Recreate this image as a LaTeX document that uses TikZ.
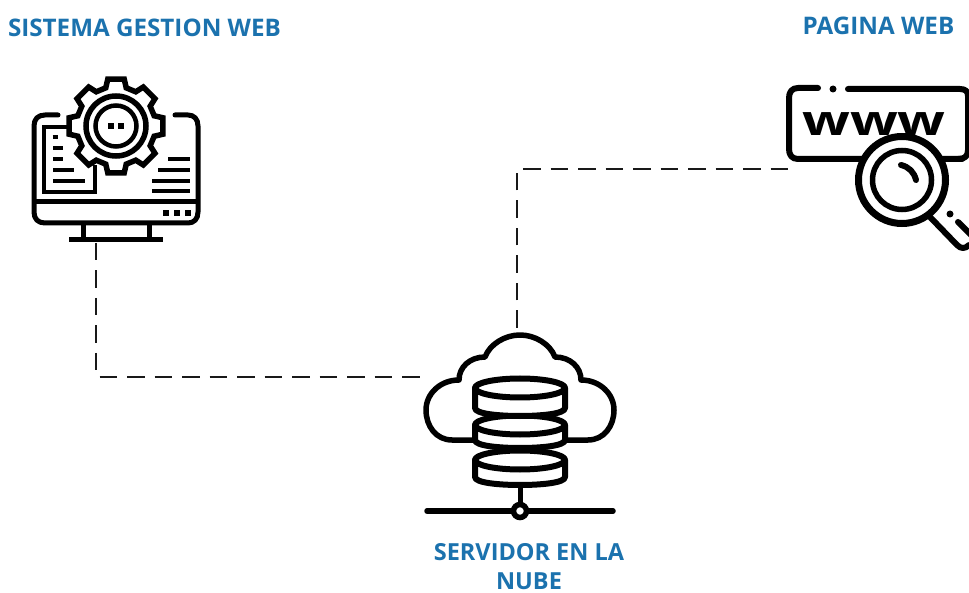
\documentclass[tikz,border=0pt]{standalone}
\usepackage{fontspec}
\setmainfont{Open Sans}
\definecolor{labelblue}{HTML}{1B72AE}
\tikzset{
  icon/.style={draw=black,line width=5pt,line cap=round,line join=round},
  iconbutt/.style={draw=black,line width=5pt,line cap=butt,line join=miter},
  link/.style={draw=black!90,line width=2.2pt,dash pattern=on 17.5pt off 10pt},
  lab/.style={text=labelblue,font=\fontsize{24.2}{28}\selectfont\bfseries,align=center,inner sep=0pt},
  anchorpt/.style={inner sep=0pt,minimum size=0pt,outer sep=0pt}
}
\begin{document}
\begin{tikzpicture}[x=1pt,y=-1pt]
\useasboundingbox (0,0) rectangle (969,593);
\fill[white] (0,0) rectangle (969,593);
% labels
\node[lab] (l1) at (144.5,28) {SISTEMA GESTION WEB};
\node[lab] (l2) at (878.5,26) {PAGINA WEB};
\node[lab,font=\fontsize{23.5}{29.5}\selectfont\bfseries] (l3) at (529,566.5) {SERVIDOR EN LA\\NUBE};
% connector ends
\node[anchorpt] (monitorfoot) at (96,243) {};
\node[anchorpt] (cloudleft) at (420,377) {};
\node[anchorpt] (cloudtop) at (517,328) {};
\node[anchorpt] (wwwleft) at (790,169) {};
\draw[link] (monitorfoot) |- (cloudleft);
\draw[link] (cloudtop) |- (wwwleft);
% monitor
\draw[icon] (58,115) -- (45,115) .. controls (38,115) and (34,119) .. (34,126) -- (34,212)
  .. controls (34,219) and (38,223) .. (45,223) -- (188,223)
  .. controls (194,223) and (198,219) .. (198,212) -- (198,126)
  .. controls (198,119) and (194,115) .. (188,115) -- (175,115);
\draw[iconbutt] (34,202) -- (198,202);
\draw[iconbutt] (83,223) -- (83,240);
\draw[iconbutt] (149,223) -- (149,240);
\draw[iconbutt] (69,240) -- (163,240);
% document
\draw[iconbutt,line width=4.5pt] (70,127) -- (44,127) -- (44,192) -- (95,192) -- (95,165);
\foreach \y/\xb/\xe in {137/52.5/58,148/53/63,159/53/63,170/53/74,181/53/85}
  \draw[iconbutt,line width=4.5pt] (\xb,\y) -- (\xe,\y);
\draw[iconbutt,line width=4.5pt] (168,159) -- (190,159);
\draw[iconbutt,line width=4.5pt] (158,170) -- (190,170);
\draw[iconbutt,line width=4.5pt] (152,181) -- (190,181);
\draw[iconbutt,line width=4.5pt] (152,191) -- (190,191);
\foreach \x in {166,177,188}
  \fill (\x-2.7,210.3) rectangle (\x+2.7,215.7);
% gear
\begin{scope}[shift={(116,126)}]
\draw[icon,fill=white,line width=5.5pt,line join=miter] (-15:39.5)
  \foreach \a in {0,45,...,315} { -- (\a-15:39.5) -- (\a-10:47.5) -- (\a+10:47.5) -- (\a+15:39.5) } -- cycle;
\draw[black,fill=white,line width=5.5pt] (0,0) circle[radius=30];
\draw[black,fill=white,line width=4.5pt] (0,0) circle[radius=20.5];
\fill (-8,-3) rectangle (-2,3);
\fill (2,-3) rectangle (8,3);
\end{scope}
% www window
\draw[icon,line width=6pt] (818,88) -- (798,88) .. controls (792,88) and (789,92) .. (789,98) -- (789,149)
  .. controls (789,155) and (792,159) .. (798,159) -- (962,159);
\fill (833,89) circle[radius=3.5];
\draw[icon,line width=6pt] (848,89) -- (960,89) .. controls (966,89) and (968,92) .. (968,96) -- (968,150)
  .. controls (968,156) and (965,159) .. (958,159);
\node[inner sep=0pt,font=\fontsize{42}{42}\selectfont\bfseries,xscale=1.33,transform shape] (www) at (874,124) {www};
% magnifier
\draw[icon,line width=6pt] (930,217) -- (957,245) .. controls (961,249) and (965,249) .. (969,245);
\draw[icon,line width=6pt] (958,222) -- (972,236);
\fill (950,214) circle[radius=3.5];
\draw[black,fill=white,line width=7pt] (902,180) circle[radius=43.5];
\draw[black,fill=white,line width=5.5pt] (902,180) circle[radius=29.5];
\draw[icon,line width=6pt] (901,165) .. controls (909,167) and (914,172) .. (916,180);
% cloud
\draw[icon,line width=5.5pt] (473,440) -- (452,440) .. controls (436,440) and (426,426) .. (426,410)
  .. controls (426,394) and (440,380) .. (459,380)
  .. controls (459,367) and (470,357) .. (485,357)
  .. controls (490,344) and (505,335) .. (520,335)
  .. controls (535,335) and (550,344) .. (555,357)
  .. controls (570,357) and (581,367) .. (581,380)
  .. controls (600,380) and (614,394) .. (614,410)
  .. controls (614,426) and (604,440) .. (588,440) -- (567,440);
% database (bottom to top)
\foreach \yt/\yb in {460/477,425/440,388/408}{
  \draw[icon,line width=6pt,fill=white] (475,\yt) -- (475,\yb)
    .. controls (475,\yb+6) and (500,\yb+8) .. (520,\yb+8)
    .. controls (540,\yb+8) and (565,\yb+6) .. (565,\yb) -- (565,\yt);
  \draw[icon,line width=6pt,fill=white] (520,\yt) ellipse[x radius=45,y radius=9.5];
}
% network
\draw[iconbutt,line width=5pt] (520,485) -- (520,504);
\draw[icon,line width=5.5pt] (427,511) -- (613,511);
\draw[black,fill=white,line width=5.5pt] (520,511) circle[radius=6.5];
\end{tikzpicture}
\end{document}
